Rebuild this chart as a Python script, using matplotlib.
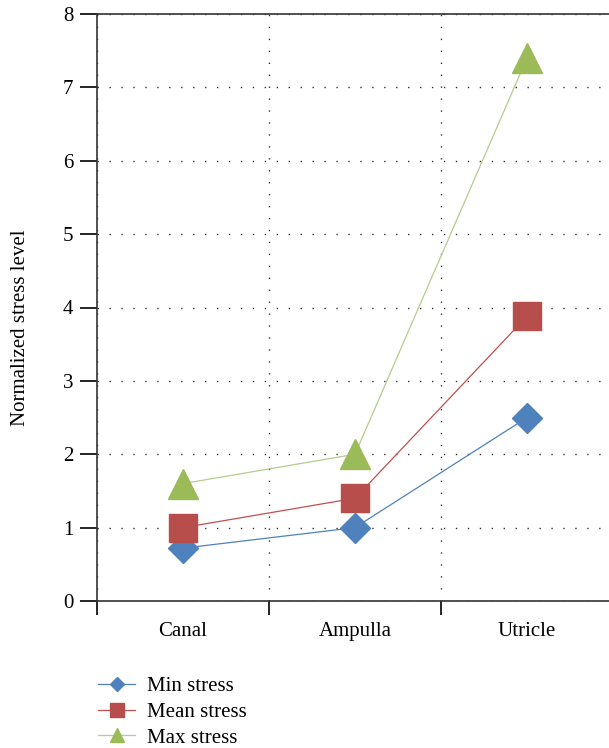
import numpy as np
import matplotlib
matplotlib.use("Agg")
import matplotlib.pyplot as plt

# data
sites = ["Canal", "Ampulla", "Utricle"]
min_stress = [0.72, 1.0, 2.5]
mean_stress = [1.0, 1.4, 3.88]
max_stress = [1.6, 2.0, 7.4]

plt.rcParams['font.family'] = ['Liberation Serif', 'DejaVu Serif']
plt.rcParams['font.size'] = 15

fig = plt.figure(figsize=(6.09, 7.48), dpi=100)
ax = fig.add_axes([97/609, 1 - 601/748, 516/609, 587/748])

x = np.arange(len(sites))
ax.plot(x, min_stress, color='#4F81BD', lw=0.9, marker='D', ms=15,
        mec='#4F81BD', label='Min stress', zorder=3)
ax.plot(x, mean_stress, color='#C0504D', lw=0.9, marker='s', ms=20,
        mec='#B84E4B', mfc='#B84E4B', label='Mean stress', zorder=4)
ax.plot(x, max_stress, color='#B5CC8A', lw=0.9, marker='^', ms=21,
        mfc='#9BBB59', mec='#9BBB59', label='Max stress', zorder=5)

ax.set_xlim(-0.5, 2.5)
ax.set_ylim(0, 8)
ax.set_yticks(range(9))

# category boundaries get the ticks, centres get the labels
ax.set_xticks([-0.5, 0.5, 1.5])
ax.set_xticklabels([])
ax.set_xticks(x, minor=True)
ax.set_xticklabels(sites, minor=True)
ax.tick_params(axis='x', which='major', length=10, width=1.2, direction='out')
ax.tick_params(axis='x', which='minor', length=0, pad=15)
ax.tick_params(axis='y', length=12, width=1.2, direction='out', pad=5)

ax.spines['right'].set_visible(False)
for s in ['left', 'bottom', 'top']:
    ax.spines[s].set_linewidth(1.2)
    ax.spines[s].set_color('#333333')

ax.grid(True, which='major', color='#333333', lw=1.0, linestyle=(0, (1, 7.6)))

ax.set_ylabel('Normalized stress level')
ax.yaxis.set_label_coords(-0.13, 0.465)

fig.legend(loc='upper left', bbox_to_anchor=(88/609, 1 - 666/748), frameon=False,
           markerscale=0.5, handlelength=1.75, handletextpad=0.6,
           labelspacing=0.3, borderpad=0)

fig.savefig('out.png', dpi=100)
